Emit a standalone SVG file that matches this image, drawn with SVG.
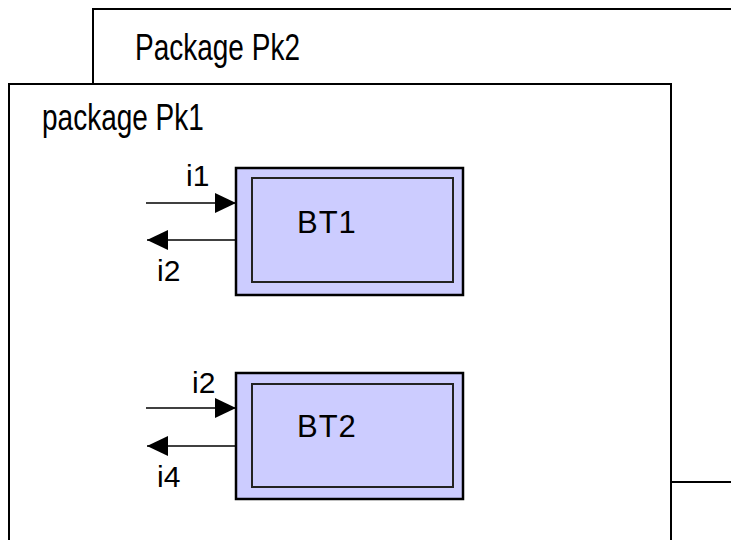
<svg xmlns="http://www.w3.org/2000/svg" width="731" height="540" viewBox="0 0 731 540">
<defs>
<style>
.pkg{fill:#ffffff;stroke:#000000;stroke-width:2}
.outer{fill:#ccccff;stroke:#000000;stroke-width:2.5}
.inner{fill:#ccccff;stroke:#222222;stroke-width:2}
.lbl{font-family:"Liberation Sans",Arial,sans-serif;fill:#000000}
.conn{stroke:#000000;stroke-width:1.6;fill:none;marker-end:url(#arrow)}
</style>
<marker id="arrow" markerUnits="userSpaceOnUse" markerWidth="21" markerHeight="20" refX="21" refY="10" orient="auto">
<path d="M0,0 L21,10 L0,20 Z" fill="#000000"/>
</marker>
</defs>
<rect width="731" height="540" fill="#ffffff"/>
<g id="Pk2">
<rect class="pkg" x="93" y="9" width="700" height="473"/>
<text class="lbl" font-size="28" transform="translate(135,60) scale(1,1.33)">Package Pk2</text>
</g>
<g id="Pk1">
<rect class="pkg" x="9" y="84" width="662" height="500"/>
<text class="lbl" font-size="28" transform="translate(42,130) scale(1,1.33)">package Pk1</text>
</g>
<g id="BT1">
<rect class="outer" x="236" y="168" width="227" height="127"/>
<rect class="inner" x="252" y="178" width="201" height="104"/>
<text class="lbl" font-size="31" x="297" y="233" letter-spacing="1">BT1</text>
</g>
<g id="BT2">
<rect class="outer" x="236" y="373" width="227" height="126"/>
<rect class="inner" x="252" y="384" width="201" height="103"/>
<text class="lbl" font-size="31" x="297" y="437" letter-spacing="1">BT2</text>
</g>
<g id="connectors">
<line class="conn" x1="146" y1="203" x2="236" y2="203"/>
<line class="conn" x1="236" y1="240" x2="147" y2="240"/>
<line class="conn" x1="146" y1="408" x2="236" y2="408"/>
<line class="conn" x1="236" y1="446" x2="147" y2="446"/>
<text class="lbl" font-size="30" x="186" y="186">i1</text>
<text class="lbl" font-size="30" x="157" y="281">i2</text>
<text class="lbl" font-size="30" x="192" y="393">i2</text>
<text class="lbl" font-size="30" x="157" y="487">i4</text>
</g>
</svg>
